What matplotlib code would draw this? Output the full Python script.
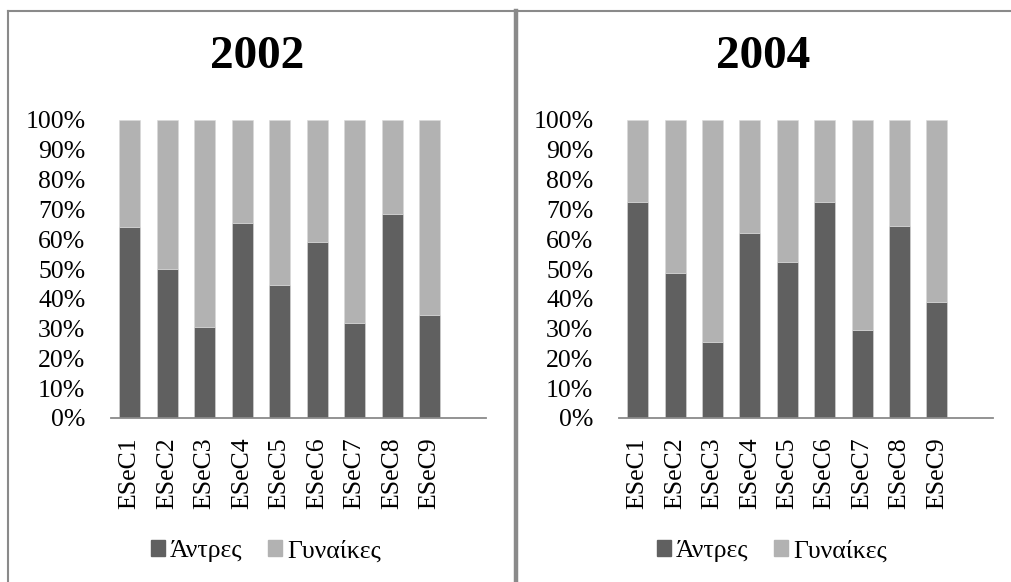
import matplotlib
matplotlib.use("Agg")
import matplotlib.pyplot as plt
from matplotlib.lines import Line2D
from matplotlib.patches import Patch

plt.rcParams['font.family'] = ['Liberation Serif', 'DejaVu Serif']

categories = ["ESeC1", "ESeC2", "ESeC3", "ESeC4", "ESeC5", "ESeC6", "ESeC7", "ESeC8", "ESeC9"]
men_2002 = [64, 50, 30.5, 65.5, 44.5, 59, 32, 68.5, 34.5]
men_2004 = [72.5, 48.5, 25.5, 62, 52.5, 72.5, 29.5, 64.5, 39]
titles = ["2002", "2004"]
series_names = ["Άντρες", "Γυναίκες"]
yticks = [0, 10, 20, 30, 40, 50, 60, 70, 80, 90, 100]

W, H = 1011, 582
fig = plt.figure(figsize=(W / 100, H / 100), dpi=100)

dark = "#606060"
light = "#b2b2b2"
frame_col = "#8a8a8a"
fs = 18.5

def fx(px):
    return px / W

def fy(py):
    return 1 - py / H

# frame lines
fig.add_artist(Line2D([fx(8), 1], [fy(11), fy(11)], color=frame_col, lw=1.5, transform=fig.transFigure))
fig.add_artist(Line2D([fx(8), fx(8)], [fy(11), 0], color=frame_col, lw=1.5, transform=fig.transFigure))
fig.add_artist(Line2D([fx(516), fx(516)], [fy(11), 0], color=frame_col, lw=3.2, transform=fig.transFigure))

panels = [(111, 486, men_2002, 257, 266), (619, 993, men_2004, 763, 772)]

for (x0, x1, men, tx, lx), title in zip(panels, titles):
    ax = fig.add_axes([fx(x0), fy(418), fx(x1 - x0), (418 - 120) / H])
    xs = list(range(len(categories)))
    women = [100 - m for m in men]
    ax.bar(xs, men, width=0.56, color=dark, edgecolor="#d8d8d8", linewidth=0.4)
    ax.bar(xs, women, bottom=men, width=0.56, color=light, edgecolor="#d8d8d8", linewidth=0.4)
    ax.set_xlim(-0.5, 9.5)
    ax.set_ylim(0, 100)
    ax.set_yticks(yticks)
    ax.set_yticklabels([f"{t}%" for t in yticks], fontsize=fs)
    ax.set_xticks(xs)
    ax.set_xticklabels(categories, rotation=90, fontsize=fs)
    ax.tick_params(axis='both', length=0)
    ax.tick_params(axis='y', pad=18.5)
    ax.tick_params(axis='x', pad=14)
    for s in ["top", "right", "left"]:
        ax.spines[s].set_visible(False)
    ax.spines["bottom"].set_color(frame_col)
    ax.spines["bottom"].set_linewidth(1.3)
    fig.text(fx(tx), fy(57), title, ha="center", va="center", fontsize=34, fontweight="bold")
    handles = [Patch(color=dark), Patch(color=light)]
    fig.legend(handles, series_names, loc="center", bbox_to_anchor=(fx(lx), fy(551)),
               ncol=2, frameon=False, fontsize=fs, handlelength=0.55, handleheight=0.55,
               handletextpad=0.2, columnspacing=1.0)

fig.savefig("out.png", dpi=100)
